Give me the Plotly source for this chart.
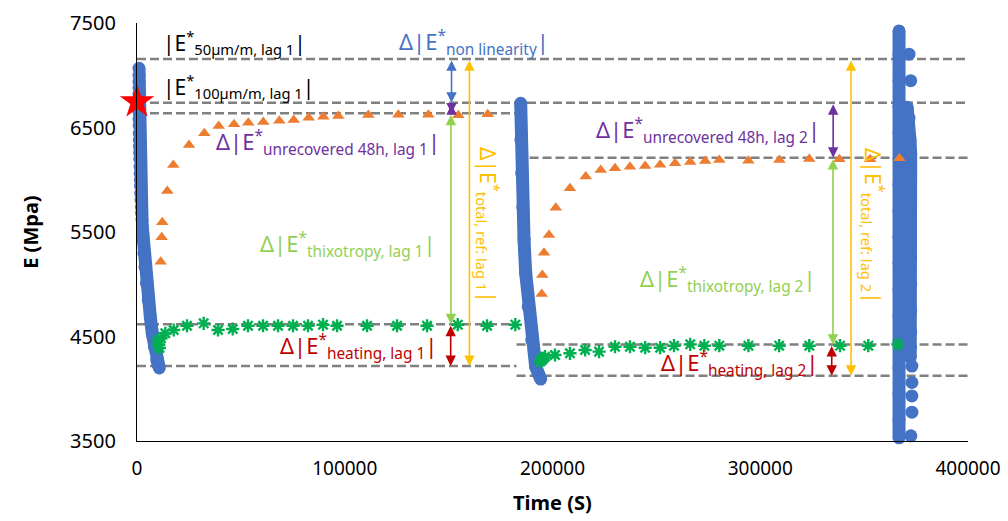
import plotly.graph_objects as go

# ---------------- data ----------------
# blue: measured E during loading (three loading phases)
blue1_t = [960, 960, 960, 960, 960, 960, 960, 1000, 1000, 1050, 1100, 1150, 1200, 1250,
           1320, 1440, 1500, 1600, 1700, 1800, 1930, 2100, 2250, 2400, 2550, 2740, 2950,
           3300, 3850, 4600, 5440, 6400, 7360, 8400, 9480, 10100, 10730]
blue1_e = [7066, 7000, 6940, 6880, 6820, 6763, 6700, 6640, 6580, 6520, 6445, 6380, 6320,
           6260, 6200, 6125, 6060, 6000, 5940, 5870, 5806, 5740, 5680, 5620, 5550, 5488,
           5420, 5300, 5168, 5010, 4849, 4690, 4529, 4400, 4275, 4235, 4199]
blue2_t = [184700, 184800, 185200, 185700, 186300, 187100, 188300, 190000, 191900, 194300]
blue2_e = [6732, 6380, 6062, 5742, 5423, 5105, 4785, 4467, 4211, 4093]
blue3_t = [366800, 366800, 366800, 366800, 366800, 366800, 366800, 366800, 366800,
           366800, 366800, 366800, 366800, 366800, 366800, 366800, 366800]
blue3_e = [7424, 7200, 6950, 6700, 6450, 6200, 5950, 5700, 5450, 5200, 4950, 4700,
           4450, 4200, 3950, 3700, 3530]
blue4_t = [370700, 371600, 372100, 372400, 372400, 372400, 372400, 372400, 372400,
           372400, 372400, 372400, 372200]
blue4_e = [6693, 6590, 6376, 6250, 6000, 5750, 5500, 5250, 5000, 4750, 4540, 4400, 4300]
blue5_t = [371600, 372400, 373000, 373000, 373000, 373000, 372500]
blue5_e = [7202, 6948, 4217, 4060, 3931, 3776, 3550]

# orange triangles: recovery (rest) phase
orange_t = [11410, 11890, 12180, 14590, 17480, 25030, 32400, 39330, 46700, 53580,
            60800, 68500, 75440, 82660, 89690, 96910, 111350, 125790, 140230,
            154680, 168830,
            194800, 195100, 195900, 198300, 201600, 208400, 216000, 223200,
            230100, 237300, 244600, 251800, 259000, 266300, 273500, 280300,
            294300, 309200, 323600, 338100, 352900, 367000]
orange_e = [5216, 5449, 5593, 5892, 6141, 6333, 6445, 6514, 6531, 6546,
            6553, 6565, 6572, 6594, 6603, 6610, 6620, 6622, 6622,
            6617, 6626,
            4907, 5089, 5302, 5471, 5733, 5919, 6030, 6094,
            6110, 6125, 6132, 6144, 6158, 6170, 6180, 6189,
            6182, 6189, 6199, 6196, 6196, 6205]

# green asterisks: temperature corrected values
green_t = [10000, 10450, 10800, 11550, 13620, 17670, 24070, 32110, 38990, 46070,
           53430, 60660, 67880, 75100, 82320, 89540, 96280, 110720, 125160,
           139610, 154390, 168490, 182110,
           194000, 194800, 195500, 196400, 201200, 208400, 215700, 222400,
           230100, 237300, 244600, 251800, 258500, 266300, 273100, 280300,
           294300, 309100, 323600, 338400, 352000, 366200]
green_e = [4460, 4419, 4390, 4483, 4531, 4562, 4603, 4626, 4562, 4572,
           4603, 4603, 4603, 4603, 4603, 4613, 4603, 4603, 4603,
           4603, 4613, 4603, 4613,
           4260, 4275, 4290, 4307, 4323, 4339, 4371, 4355,
           4402, 4402, 4393, 4393, 4412, 4425, 4412, 4412,
           4412, 4412, 4412, 4412, 4412, 4425]

star_t = [0]
star_e = [6745]

# reference levels (dashed lines): value, start time, end time
ref_levels = [7156, 6737, 6636, 4617, 4218, 6211, 4423, 4125]
ref_start = [0, 0, 0, 0, 0, 182700, 182700, 182700]
ref_end = [400000, 400000, 182700, 182700, 182700, 400000, 400000, 400000]

# arrows: x position, from, to, colour
arrow_x = [151400, 151400, 151100, 151000, 160000, 335100, 335000, 334400, 343700]
arrow_from = [7156, 6737, 6636, 4617, 7156, 6737, 6211, 4423, 7156]
arrow_to = [6737, 6636, 4617, 4218, 4218, 6211, 4423, 4125, 4125]
arrow_col = ["#4472C4", "#7030A0", "#92D050", "#C00000", "#FFC000",
             "#7030A0", "#92D050", "#C00000", "#FFC000"]

# labels: text, x, y, anchor, colour, angle
lab_text = [
    "|E<sup>*</sup><sub>50µm/m, lag 1</sub>|",
    "|E<sup>*</sup><sub>100µm/m, lag 1</sub>|",
    "Δ|E<sup>*</sup><sub>non linearity</sub>|",
    "Δ|E<sup>*</sup><sub>unrecovered 48h, lag 1</sub>|",
    "Δ|E<sup>*</sup><sub>thixotropy, lag 1</sub>|",
    "Δ|E<sup>*</sup><sub>heating, lag 1</sub>|",
    "Δ|E<sup>*</sup><sub>total, ref: lag 1</sub>|",
    "Δ|E<sup>*</sup><sub>unrecovered 48h, lag 2</sub>|",
    "Δ|E<sup>*</sup><sub>thixotropy, lag 2</sub>|",
    "Δ|E<sup>*</sup><sub>heating, lag 2</sub>|",
    "Δ|E<sup>*</sup><sub>total, ref: lag 2</sub>|",
]
lab_x = [11550, 11550, 199300, 146800, 144900, 145400, 169400, 329700, 327800, 328800, 354800]
lab_y = [7309, 6888, 7309, 6361, 5376, 4409, 5567, 6476, 5041, 4237, 5557]
lab_anchor = ["left", "left", "right", "right", "right", "right", "center",
              "right", "right", "right", "center"]
lab_col = ["#000000", "#000000", "#4472C4", "#7030A0", "#92D050", "#C00000", "#FFC000",
           "#7030A0", "#92D050", "#C00000", "#FFC000"]
lab_angle = [0, 0, 0, 0, 0, 0, 90, 0, 0, 0, 90]
lab_size = [21, 21, 22, 22, 22, 22, 21, 22, 22, 22, 21]

x_ticks = [0, 100000, 200000, 300000, 400000]
y_ticks = [3500, 4500, 5500, 6500, 7500]

FONT = "Noto Sans"
BLUE = "#4472C4"
GREEN = "#00B050"

fig = go.Figure()

fig.add_trace(go.Scatter(x=blue1_t, y=blue1_e, mode="markers",
                         marker=dict(color=BLUE, size=13),
                         cliponaxis=False, showlegend=False))
for t, e in [(blue2_t, blue2_e), (blue3_t, blue3_e), (blue4_t, blue4_e)]:
    fig.add_trace(go.Scatter(x=t, y=e, mode="lines+markers",
                             line=dict(color=BLUE, width=13),
                             marker=dict(color=BLUE, size=13),
                             cliponaxis=False, showlegend=False))
fig.add_trace(go.Scatter(x=blue1_t, y=blue1_e, mode="lines",
                         line=dict(color=BLUE, width=13),
                         cliponaxis=False, showlegend=False))
fig.add_trace(go.Scatter(x=blue5_t, y=blue5_e, mode="markers",
                         marker=dict(color=BLUE, size=13),
                         cliponaxis=False, showlegend=False))

fig.add_trace(go.Scatter(x=orange_t, y=orange_e, mode="markers",
                         marker=dict(symbol="triangle-up", color="#ED7D31", size=11),
                         cliponaxis=False, showlegend=False))
fig.add_trace(go.Scatter(x=green_t, y=green_e, mode="markers",
                         marker=dict(symbol="asterisk-open", size=11, color=GREEN,
                                     line=dict(color=GREEN, width=2.4)),
                         cliponaxis=False, showlegend=False))
fig.add_trace(go.Scatter(x=star_t, y=star_e, mode="markers",
                         marker=dict(symbol="star", color="#FF0000", size=26),
                         cliponaxis=False, showlegend=False))

for v, s, e in zip(ref_levels, ref_start, ref_end):
    fig.add_shape(type="line", xref="x", yref="y", x0=s, x1=e, y0=v, y1=v,
                  line=dict(color="#808080", width=2.5, dash="9px,4px"), layer="below")

annotations = []
for x, a, b, c in zip(arrow_x, arrow_from, arrow_to, arrow_col):
    annotations.append(dict(x=x, y=b, ax=x, ay=a, xref="x", yref="y", axref="x", ayref="y",
                            text="", showarrow=True, arrowhead=2, startarrowhead=2,
                            arrowside="end+start", arrowwidth=1.6, arrowsize=1.3,
                            startarrowsize=1.3, arrowcolor=c, standoff=0, startstandoff=0))
for txt, x, y, anc, col, ang, sz in zip(lab_text, lab_x, lab_y, lab_anchor, lab_col,
                                         lab_angle, lab_size):
    annotations.append(dict(x=x, y=y, xref="x", yref="y", text=txt, showarrow=False,
                            xanchor=anc, yanchor="middle", textangle=ang,
                            font=dict(family=FONT, size=sz, color=col)))
annotations.append(dict(x=-0.129, y=0.5, xref="paper", yref="paper", text="<b>E (Mpa)</b>",
                        textangle=-90, showarrow=False, xanchor="center", yanchor="middle",
                        font=dict(family=FONT, size=20, color="#000000")))
annotations.append(dict(x=0.5, y=-0.148, xref="paper", yref="paper", text="<b>Time (S)</b>",
                        showarrow=False, xanchor="center", yanchor="middle",
                        font=dict(family=FONT, size=20, color="#000000")))

fig.update_layout(
    width=1008, height=521,
    margin=dict(l=137, r=40, t=23, b=80),
    paper_bgcolor="white", plot_bgcolor="rgba(0,0,0,0)",
    showlegend=False,
    annotations=annotations,
    font=dict(family=FONT, size=20, color="#000000"),
)
fig.update_xaxes(range=[0, 400000], tickvals=x_ticks, ticktext=[str(v) for v in x_ticks],
                 showgrid=False, zeroline=False, showline=True, linecolor="#000000",
                 linewidth=1.3, ticks="outside", ticklen=10, tickcolor="rgba(0,0,0,0)",
                 tickfont=dict(family=FONT, size=19), automargin=False)
fig.update_yaxes(range=[3500, 7500], tickvals=y_ticks, ticktext=[str(v) for v in y_ticks],
                 showgrid=False, zeroline=False, showline=True, linecolor="#000000",
                 linewidth=1.3, ticks="outside", ticklen=16, tickcolor="rgba(0,0,0,0)",
                 tickfont=dict(family=FONT, size=20), automargin=False)

fig.write_html("out.html", config={"displayModeBar": False},
               post_script="document.body.style.margin='0px';")
